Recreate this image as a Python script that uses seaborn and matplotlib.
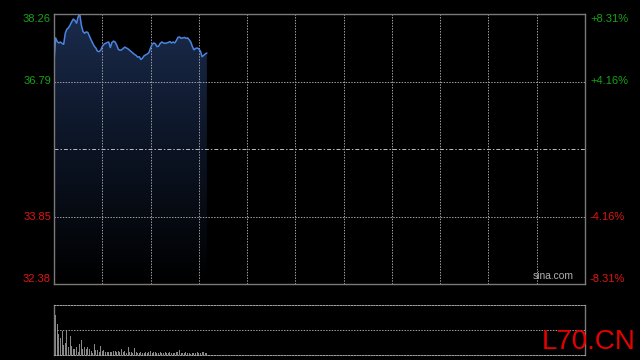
import numpy as np
import pandas as pd
import matplotlib
matplotlib.use("Agg")
import matplotlib.pyplot as plt
import seaborn as sns
from matplotlib.colors import LinearSegmentedColormap

# ---------------- data ----------------
prices = [37.21, 37.74, 37.66, 37.63, 37.65, 37.62, 37.60, 37.84, 37.93, 37.96,
          38.02, 38.09, 38.15, 38.12, 38.06, 38.20, 38.26, 38.02, 37.88, 37.84,
          37.87, 37.86, 37.78, 37.70, 37.63, 37.56, 37.52, 37.45, 37.44, 37.47,
          37.55, 37.60, 37.62, 37.64, 37.65, 37.53, 37.64, 37.67, 37.65, 37.58,
          37.49, 37.47, 37.48, 37.51, 37.54, 37.52, 37.50, 37.47, 37.44, 37.41,
          37.38, 37.36, 37.32, 37.33, 37.27, 37.30, 37.35, 37.37, 37.39, 37.42,
          37.52, 37.60, 37.63, 37.61, 37.55, 37.56, 37.62, 37.65, 37.63, 37.62,
          37.63, 37.64, 37.66, 37.63, 37.65, 37.63, 37.68, 37.75, 37.76, 37.73,
          37.74, 37.75, 37.73, 37.74, 37.70, 37.65, 37.55, 37.48, 37.51, 37.52,
          37.50, 37.45, 37.33, 37.36, 37.39, 37.41]
volumes = [100, 80, 62, 43, 34, 48, 20, 24, 50, 17,
           38, 18, 13, 13, 16, 6, 22, 30, 13, 17,
           13, 17, 12, 8, 5, 22, 10, 11, 6, 18,
           8, 10, 6, 6, 7, 6, 7, 8, 9, 6,
           8, 7, 12, 7, 8, 5, 16, 7, 7, 5,
           14, 7, 5, 4, 6, 5, 4, 6, 5, 7,
           8, 5, 7, 6, 4, 5, 6, 4, 5, 6,
           5, 4, 6, 5, 4, 5, 6, 7, 11, 5,
           4, 5, 6, 4, 5, 3, 4, 5, 4, 6,
           5, 4, 6, 7, 5, 4]
minutes = list(range(len(prices)))
session_minutes = 330
prev_close = 35.32
price_min, price_max = 32.38, 38.26
left_ticks = [38.26, 36.79, 33.85, 32.38]
left_labels = ["38.26", "36.79", "33.85", "32.38"]
right_labels = ["+8.31%", "+4.16%", "-4.16%", "-8.31%"]
label_colors = ["#17a317", "#17a317", "#e01414", "#e01414"]
vgrid = list(range(30, 330, 30))

df = pd.DataFrame({"minute": minutes, "price": prices, "volume": volumes})

# ---------------- figure ----------------
sns.set_style("dark")
plt.rcParams["font.family"] = ["Liberation Sans", "DejaVu Sans"]
fig = plt.figure(figsize=(6.4, 3.6), dpi=100, facecolor="black")
ax = fig.add_axes([54 / 640, 1 - 284 / 360, 531 / 640, 270 / 360])
axv = fig.add_axes([54 / 640, 1 - 355 / 360, 531 / 640, 50 / 360])

grid_col = "#a0a0a0"
spine_col = "#7a7a7a"
dot = (1.4, 1.4)

for a in (ax, axv):
    a.set_facecolor("black")
    a.set_xlim(0, session_minutes)
    a.set_xticks([])
    a.set_yticks([])
    a.grid(False)
    for s in a.spines.values():
        s.set_color(spine_col)
        s.set_linewidth(1.0)
        s.set_zorder(6)

ax.set_ylim(price_min, price_max)

# gradient area fill
poly = ax.fill_between(df["minute"], df["price"], price_min, color="none", lw=0)
grad = np.linspace(1, 0, 256).reshape(-1, 1)
cmap = LinearSegmentedColormap.from_list("g", ["#000000", "#0c1424", "#1a2b4c"])
img = ax.imshow(grad, cmap=cmap, aspect="auto", origin="upper",
                extent=[0, len(prices) - 1, price_min, max(prices)], zorder=2,
                vmin=0, vmax=1)
img.set_clip_path(poly.get_paths()[0], transform=ax.transData)

# gridlines (above fill)
for xv in vgrid:
    ax.axvline(xv, color=grid_col, lw=0.72, dashes=dot, zorder=3)
for yv in [36.79, 33.85]:
    ax.axhline(yv, color=grid_col, lw=0.72, dashes=dot, zorder=3)
ax.axhline(prev_close, color="#b8b8b8", lw=0.72, dashes=(4, 2, 1.4, 2), zorder=4)

sns.lineplot(data=df, x="minute", y="price", ax=ax, color="#4a84e0", lw=1.1, zorder=5)
ax.set_xlabel("")
ax.set_ylabel("")
ax.set_xlim(0, session_minutes)
ax.set_ylim(price_min, price_max)

# price labels
vas = ["top", "center", "center", "bottom"]
for yv, lt, rt, c, va in zip(left_ticks, left_labels, right_labels, label_colors, vas):
    ax.text(-3 / 531, yv, lt, transform=ax.get_yaxis_transform(), ha="right", va=va,
            color=c, fontsize=8)
    ax.text(1 + 5 / 531, yv, rt, transform=ax.get_yaxis_transform(), ha="left", va=va,
            color=c, fontsize=8)

ax.text(0.979, 0.012, "sina.com", transform=ax.transAxes, ha="right", va="bottom",
        color="#b0b0b0", fontsize=7.4, zorder=6)

# volume panel
axv.bar(df["minute"], df["volume"], width=0.62, color="#888888", lw=0, zorder=2,
        antialiased=False)
axv.set_ylim(0, max(volumes))
axv.axhline(max(volumes) / 2, color=grid_col, lw=0.72, dashes=dot, zorder=3)
for side in ("top", "bottom"):
    axv.spines[side].set_linestyle((0, dot))
    axv.spines[side].set_linewidth(0.72)
    axv.spines[side].set_color(grid_col)

fig.text(636 / 640, 1 - 349 / 360, "L70.CN", color="#e60000", fontsize=20,
         ha="right", va="baseline")

fig.savefig("out.png", dpi=100, facecolor="black")
